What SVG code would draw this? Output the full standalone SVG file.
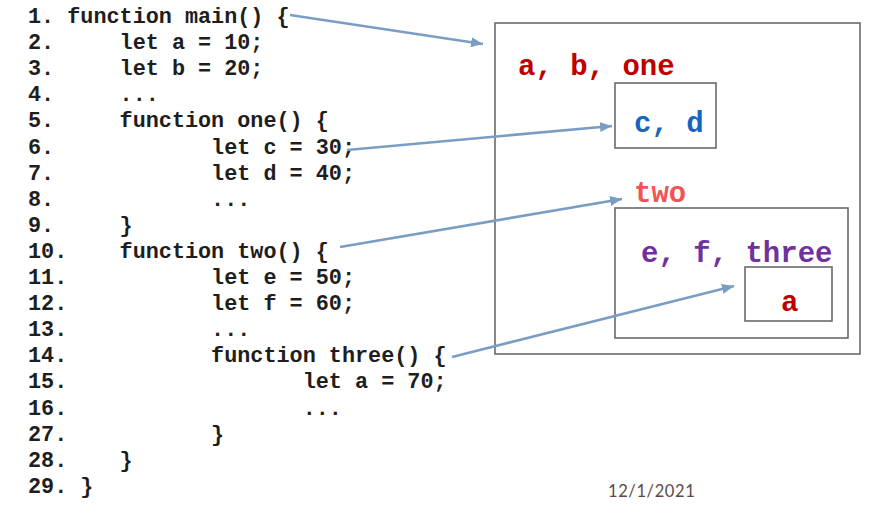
<svg xmlns="http://www.w3.org/2000/svg" width="876" height="513" viewBox="0 0 876 513">
<style>
.code{font-family:"Liberation Mono","Courier New",monospace;font-weight:bold;font-size:21.8px;fill:#1e1e1e;white-space:pre}
.lbl{font-family:"Liberation Mono","Courier New",monospace;font-weight:bold;font-size:29px}
.box{fill:none;stroke:#6a6a6a;stroke-width:1.6}
.arr{stroke:#7b9dc4;stroke-width:2.6;fill:none;marker-end:url(#ah)}
.date{font-family:"Lato","Liberation Sans",sans-serif;font-size:16.5px;fill:#5b4a43;letter-spacing:0.6px}
</style>
<defs>
<marker id="ah" markerUnits="userSpaceOnUse" markerWidth="14" markerHeight="12" refX="12" refY="5" orient="auto">
<path d="M0,0 L12,5 L0,10 Z" fill="#7b9dc4"/>
</marker>
</defs>
<rect width="876" height="513" fill="#ffffff"/>
<g id="code">
<text class="code" xml:space="preserve" x="28" y="23">1. function main() {</text>
<text class="code" xml:space="preserve" x="28" y="49.1">2.     let a = 10;</text>
<text class="code" xml:space="preserve" x="28" y="75.2">3.     let b = 20;</text>
<text class="code" xml:space="preserve" x="28" y="101.3">4.     ...</text>
<text class="code" xml:space="preserve" x="28" y="127.4">5.     function one() {</text>
<text class="code" xml:space="preserve" x="28" y="153.5">6.            let c = 30;</text>
<text class="code" xml:space="preserve" x="28" y="179.6">7.            let d = 40;</text>
<text class="code" xml:space="preserve" x="28" y="205.7">8.            ...</text>
<text class="code" xml:space="preserve" x="28" y="231.8">9.     }</text>
<text class="code" xml:space="preserve" x="28" y="257.9">10.    function two() {</text>
<text class="code" xml:space="preserve" x="28" y="284">11.           let e = 50;</text>
<text class="code" xml:space="preserve" x="28" y="310.1">12.           let f = 60;</text>
<text class="code" xml:space="preserve" x="28" y="336.2">13.           ...</text>
<text class="code" xml:space="preserve" x="28" y="362.3">14.           function three() {</text>
<text class="code" xml:space="preserve" x="28" y="388.4">15.                  let a = 70;</text>
<text class="code" xml:space="preserve" x="28" y="414.5">16.                  ...</text>
<text class="code" xml:space="preserve" x="28" y="440.6">27.           }</text>
<text class="code" xml:space="preserve" x="28" y="466.7">28.    }</text>
<text class="code" xml:space="preserve" x="28" y="492.8">29. }</text>
</g>
<g id="main-scope">
<rect class="box" x="495" y="23" width="365" height="331"/>
<text class="lbl" x="518" y="75" fill="#c00000">a, b, one</text>
</g>
<g id="one-scope">
<rect class="box" x="615" y="83" width="101" height="65"/>
<text class="lbl" x="634" y="132" fill="#1565c0">c, d</text>
</g>
<g id="two-label">
<text class="lbl" x="634" y="202" fill="#f05555" font-size="28">two</text>
</g>
<g id="two-scope">
<rect class="box" x="615" y="208" width="233" height="130"/>
<text class="lbl" x="641" y="262" fill="#7030a0" font-size="29.5">e, f, three</text>
</g>
<g id="three-scope">
<rect class="box" x="745" y="267" width="87" height="54"/>
<text class="lbl" x="781" y="311" fill="#c00000">a</text>
</g>
<g id="connectors">
<line class="arr" x1="290" y1="15" x2="483" y2="44"/>
<line class="arr" x1="347" y1="150" x2="612" y2="126"/>
<line class="arr" x1="340" y1="247" x2="622" y2="199"/>
<line class="arr" x1="452" y1="357" x2="734" y2="286"/>
</g>
<text class="date" x="608" y="497">12/1/2021</text>
</svg>
